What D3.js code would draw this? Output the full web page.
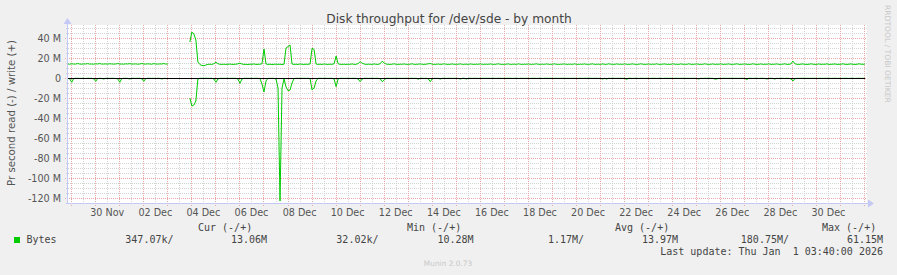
<!DOCTYPE html>
<html><head><meta charset="utf-8">
<script src="https://cdn.jsdelivr.net/npm/d3@7"></script>
<style>
body{margin:0;background:#f0f0f0;}
svg text{font-family:"DejaVu Sans",sans-serif;}
.mono{font-family:"DejaVu Sans Mono",monospace !important;white-space:pre;}
</style>
</head><body>
<svg id="chart" width="897" height="275"></svg>
<script>
// ---------- data ----------
const chartTitle = "Disk throughput for /dev/sde - by month";
const yAxisTitle = "Pr second read (-) / write (+)";
const sideText = "RRDTOOL / TOBI OETIKER";
const footerText = "Munin 2.0.73";
const seriesName = "Bytes";
const seriesStart = new Date(2025, 10, 28, 20, 30); // first sample
const stepHours = 2;
// write (+) in MB/s, 2-hour samples
const writeValues = [
14.0,13.8,14.2,14.0,13.9,14.5,14.0,13.8,14.1,14.0,14.4,13.9,14.0,13.8,14.2,14.0,14.5,13.9,14.0,14.1,
13.8,14.3,14.0,13.9,14.0,14.5,13.9,14.0,13.8,14.2,14.0,14.4,13.9,14.0,14.1,13.8,14.0,14.5,14.0,13.9,
14.2,14.0,13.8,14.4,14.0,13.9,14.1,14.0,14.5,13.9,14.0,null,null,null,null,null,null,null,null,null,
null,36.0,46.0,44.0,38.0,16.0,13.5,12.5,12.3,13.0,13.6,13.8,13.6,14.3,15.8,14.3,13.7,13.6,13.8,13.6,
13.7,14.0,13.6,13.7,13.8,14.2,14.8,14.0,13.6,13.7,13.5,13.8,13.7,14.1,13.6,13.7,13.8,14.2,29.0,14.0,
13.6,13.8,13.5,13.7,13.9,13.6,13.8,13.5,13.8,30.0,31.5,33.0,14.0,13.6,13.8,13.5,14.1,13.7,13.6,13.8,
13.7,14.0,29.7,28.5,14.0,13.6,13.8,13.5,14.1,13.7,13.6,13.8,13.7,14.2,22.0,14.2,13.7,13.6,13.8,13.5,
13.8,13.7,14.1,13.6,13.7,14.5,16.3,14.8,14.0,13.6,13.8,13.7,13.6,14.1,13.7,13.6,14.3,16.8,15.0,13.9,
13.7,13.6,13.8,14.2,13.7,13.6,13.8,13.7,14.1,13.6,13.7,13.8,14.2,13.6,13.7,13.8,14.1,13.7,13.6,13.8,
14.2,14.5,13.8,13.6,13.7,14.0,13.6,13.8,14.2,13.7,13.6,13.7,14.1,13.6,13.8,13.7,14.2,13.6,13.7,13.8,
13.6,14.1,13.7,13.6,13.8,13.7,14.2,13.6,13.7,13.8,13.6,14.1,13.7,13.6,13.8,14.2,13.7,13.6,13.7,13.8,
14.1,13.6,13.7,13.8,13.6,14.2,13.7,13.6,13.8,13.7,14.1,13.6,13.7,13.8,14.2,13.6,13.7,13.8,13.6,14.1,
13.7,13.6,13.8,14.2,13.7,13.6,13.7,13.8,14.1,13.6,13.7,13.8,13.6,14.2,13.7,13.6,13.8,13.7,14.1,13.6,
13.7,13.8,14.2,13.6,13.7,13.8,13.6,14.1,13.7,13.6,14.2,13.8,13.7,13.6,14.1,13.7,13.8,13.6,14.2,13.7,
13.6,13.8,14.1,13.7,13.6,13.7,14.2,13.8,13.6,13.7,14.1,13.6,13.8,13.7,14.2,13.6,13.7,13.8,14.1,13.6,
13.7,13.6,14.2,13.8,13.7,13.6,14.1,13.7,13.8,13.6,14.2,13.7,13.6,13.8,14.1,13.7,13.6,13.7,14.2,13.8,
13.6,13.7,14.1,13.6,13.8,13.7,14.2,13.6,13.7,13.8,14.1,13.6,13.7,13.8,14.2,13.7,13.6,13.8,14.1,13.7,
13.6,13.7,14.2,13.8,13.6,13.7,14.1,13.6,13.8,13.7,14.2,13.6,13.7,13.8,14.1,13.6,13.7,13.8,14.2,13.6,
13.7,14.0,17.0,14.2,13.7,13.6,13.8,14.1,13.7,13.6,13.7,14.2,13.8,13.6,13.7,14.1,13.6,13.8,13.7,14.2,
13.6,13.7,13.8,14.1,13.6,13.7,13.8,14.2,13.7,13.6,13.8,14.1,13.7,13.6,13.7,14.2,13.8,13.7,14.0
];
// read (-) in MB/s, 2-hour samples (drawn below zero)
const readValues = [
0.3,0.8,4.3,0.6,0.3,0.3,0.4,0.3,0.3,0.5,0.3,0.3,0.4,0.8,3.3,0.6,0.3,0.4,1.0,0.3,
0.3,0.4,0.3,0.3,0.5,0.8,4.3,0.6,0.3,0.3,0.4,1.0,0.3,0.3,0.4,0.3,0.3,0.8,3.3,0.6,
0.3,0.3,0.4,0.3,0.5,0.3,0.3,1.0,0.3,0.4,0.8,null,null,null,null,null,null,null,null,null,
null,20.0,28.0,27.0,23.0,1.0,0.3,0.3,0.4,0.3,0.3,0.4,0.3,1.0,4.3,1.0,0.3,0.3,0.4,0.3,
0.3,0.4,0.3,0.3,0.4,1.0,5.3,1.0,0.3,0.3,0.4,0.3,0.3,0.4,0.3,0.3,0.5,6.0,14.0,3.0,
0.3,0.4,0.3,0.3,1.0,10.0,123.0,10.0,1.0,9.0,12.7,12.0,5.0,0.5,0.3,0.3,0.4,0.3,0.3,0.4,
0.3,0.5,12.0,10.0,3.0,0.3,0.3,0.4,0.3,0.3,0.4,0.3,0.3,1.0,8.7,1.0,0.3,0.3,0.4,0.3,
0.3,0.4,0.3,0.3,0.4,1.0,3.7,1.0,0.3,0.3,0.4,0.3,0.3,0.4,0.3,0.3,0.8,3.7,2.0,0.3,
0.3,0.4,0.3,0.3,0.4,0.3,0.3,0.4,0.3,0.3,0.4,0.3,0.3,0.4,0.3,1.2,0.3,0.3,0.4,0.3,
0.8,3.7,0.8,0.3,0.4,0.3,1.0,0.3,0.3,0.4,0.3,0.3,0.4,0.3,0.3,0.4,1.0,0.3,0.3,1.0,
0.3,0.3,0.4,0.3,0.3,0.4,0.3,0.3,0.4,0.3,0.3,0.4,0.3,0.3,0.4,0.3,0.3,0.4,0.3,0.3,
0.3,0.3,0.4,0.3,0.3,0.4,0.3,0.3,0.4,0.3,0.3,0.4,0.3,0.3,0.4,0.3,0.3,0.4,0.3,0.3,
0.3,0.3,0.4,0.3,0.3,0.4,0.3,0.3,0.4,0.3,0.3,0.4,0.3,0.3,0.4,0.3,0.3,0.4,0.3,0.3,
0.3,0.3,0.4,0.3,0.3,0.4,0.3,1.0,0.3,1.0,0.3,0.4,0.3,0.3,0.4,0.3,0.3,0.4,0.3,1.3,
0.3,0.3,0.4,0.3,0.3,0.4,0.3,0.3,0.4,0.3,0.3,0.4,0.3,0.3,0.4,0.3,0.3,0.4,0.3,0.3,
0.3,0.3,0.4,0.3,0.3,0.4,0.3,0.3,0.4,0.3,0.3,0.4,0.3,0.3,0.4,1.0,0.3,0.4,0.3,0.3,
0.3,0.3,0.4,1.0,1.0,0.3,0.4,0.3,0.3,0.4,0.3,0.3,0.4,0.3,0.3,0.4,0.3,0.3,0.4,1.5,
0.3,0.3,0.4,0.3,0.3,0.4,0.3,0.3,0.4,1.0,0.3,0.3,0.4,1.0,0.3,0.4,0.3,0.3,0.4,0.3,
0.3,0.8,3.0,0.8,0.3,0.4,0.3,0.3,0.4,0.3,0.3,0.4,0.3,0.3,0.4,0.3,0.3,0.4,0.3,0.3,
0.3,0.4,0.3,0.3,0.4,0.3,0.3,0.4,0.3,0.3,0.4,0.3,0.3,0.4,0.3,0.3,0.4,0.3,0.3
];
const yTickValues = [40,20,0,-20,-40,-60,-80,-100,-120];
const xLabelDates = ["2025-11-30","2025-12-02","2025-12-04","2025-12-06","2025-12-08","2025-12-10","2025-12-12","2025-12-14","2025-12-16","2025-12-18","2025-12-20","2025-12-22","2025-12-24","2025-12-26","2025-12-28","2025-12-30"];
const legendHeaders = ["Cur (-/+)","Min (-/+)","Avg (-/+)","Max (-/+)"];
const legendValues = ["347.07k/","13.06M","32.02k/","10.28M","1.17M/","13.97M","180.75M/","61.15M"];
const lastUpdate = "Last update: Thu Jan  1 03:40:00 2026";

// ---------- layout ----------
const W = 897, H = 275;
const PL = 67, PR = 867, PT = 25, PB = 203;
const lineColor = "#00cc00";
const axisColor = "#c4c8f4";

const svg = d3.select("#chart");
svg.append("rect").attr("width", W).attr("height", H).attr("fill", "#f0f0f0");

const x = d3.scaleTime()
  .domain([new Date(2025, 10, 28, 19, 50), new Date(2026, 0, 1, 2, 30)])
  .range([PL, PR]);
const y = d3.scaleLinear().domain([-125, 53]).range([PB, PT]);

svg.append("rect").attr("x", PL).attr("y", PT).attr("width", PR - PL).attr("height", PB - PT).attr("fill", "#ffffff");

const grid = svg.append("g").attr("shape-rendering", "crispEdges");
// horizontal minor / major
d3.range(-120, 51, 5).forEach(v => {
  const major = v % 20 === 0;
  const yy = Math.round(y(v)) + 0.5;
  grid.append("line").attr("x1", PL - (major ? 2 : 1)).attr("x2", PR).attr("y1", yy).attr("y2", yy)
    .attr("stroke", major ? "#e8a8a8" : "#d4d4d4").attr("stroke-dasharray", "1,1");
});
// vertical minor (12h) / major (daily)
const vt = d3.timeHour.every(12).range(x.domain()[0], x.domain()[1]);
vt.forEach(t => {
  const major = t.getHours() === 0;
  const xx = Math.round(x(t)) + 0.5;
  grid.append("line").attr("x1", xx).attr("x2", xx).attr("y1", PT).attr("y2", PB + (major ? 3 : 2))
    .attr("stroke", major ? "#e8a8a8" : "#d4d4d4").attr("stroke-dasharray", "1,1");
});

// series
const tOf = i => d3.timeHour.offset(seriesStart, i * stepHours);
const lineGen = d3.line().defined(d => d.v != null).x(d => x(d.t)).y(d => y(d.v));
const writeData = writeValues.map((v, i) => ({t: tOf(i), v: v}));
const readData = readValues.map((v, i) => ({t: tOf(i), v: v == null ? null : -v}));
svg.append("path").datum(readData).attr("d", lineGen).attr("fill", "none").attr("stroke", lineColor).attr("stroke-width", 1);
svg.append("path").datum(writeData).attr("d", lineGen).attr("fill", "none").attr("stroke", lineColor).attr("stroke-width", 1);

// zero line
svg.append("line").attr("x1", PL).attr("x2", PR - 2).attr("y1", Math.round(y(0)) + 0.5).attr("y2", Math.round(y(0)) + 0.5)
  .attr("stroke", "#000").attr("stroke-width", 1).attr("shape-rendering", "crispEdges");

// axes
const ax = svg.append("g");
ax.append("line").attr("x1", PL + 0.5).attr("x2", PL + 0.5).attr("y1", PB + 1).attr("y2", PT - 3).attr("stroke", axisColor).attr("shape-rendering", "crispEdges");
ax.append("line").attr("x1", PL - 1).attr("x2", PR + 1).attr("y1", PB + 0.5).attr("y2", PB + 0.5).attr("stroke", axisColor).attr("shape-rendering", "crispEdges");
ax.append("path").attr("d", `M${PL - 3.5},${PT - 1} L${PL + 0.5},${PT - 7} L${PL + 4.5},${PT - 1} Z`).attr("fill", axisColor);
ax.append("path").attr("d", `M${PR + 1},${PB - 3.5} L${PR + 7},${PB + 0.5} L${PR + 1},${PB + 4.5} Z`).attr("fill", axisColor);

// y tick labels
svg.append("g").selectAll("text").data(yTickValues).join("text")
  .attr("x", 61).attr("y", d => y(d) + 3.6).attr("text-anchor", "end")
  .attr("font-size", 9.6).attr("fill", "#555")
  .text(d => d === 0 ? "0" : d + " M");

// x tick labels (centred on noon of each labelled day)
const fmt = d3.timeFormat("%d %b");
const parse = d3.timeParse("%Y-%m-%d");
svg.append("g").selectAll("text").data(xLabelDates.map(parse)).join("text")
  .attr("x", d => x(d3.timeHour.offset(d, 12))).attr("y", 216).attr("text-anchor", "middle")
  .attr("font-size", 9.6).attr("fill", "#555")
  .text(d => fmt(d));

// title
svg.append("text").attr("x", 449).attr("y", 23).attr("text-anchor", "middle")
  .attr("font-size", 12.2).attr("fill", "#444").text(chartTitle);
// y axis title
svg.append("text").attr("transform", "translate(15,113) rotate(-90)").attr("text-anchor", "middle")
  .attr("font-size", 10.2).attr("fill", "#555").text(yAxisTitle);
// side text
svg.append("text").attr("transform", "translate(885,5) rotate(90)").attr("text-anchor", "start")
  .attr("font-size", 7.6).attr("fill", "#c8c8c8").text(sideText);

// legend
const headerX = [198, 407, 615, 822];
svg.append("g").selectAll("text").data(legendHeaders).join("text")
  .attr("class", "mono").attr("x", (d, i) => headerX[i]).attr("y", 231)
  .attr("font-size", 10).attr("fill", "#444").text(d => d);
svg.append("rect").attr("x", 14).attr("y", 237).attr("width", 6).attr("height", 6).attr("fill", lineColor);
svg.append("text").attr("class", "mono").attr("x", 26.5).attr("y", 243).attr("font-size", 10).attr("fill", "#444").text(seriesName);
const valueEnd = [173.5, 267, 378.5, 473.5, 584, 678, 789, 883];
svg.append("g").selectAll("text").data(legendValues).join("text")
  .attr("class", "mono").attr("x", (d, i) => valueEnd[i]).attr("y", 243).attr("text-anchor", "end")
  .attr("font-size", 10).attr("fill", "#444").text(d => d);
svg.append("text").attr("class", "mono").attr("x", 883).attr("y", 255).attr("text-anchor", "end")
  .attr("font-size", 10).attr("fill", "#444").text(lastUpdate);
svg.append("text").attr("x", 448).attr("y", 266).attr("text-anchor", "middle")
  .attr("font-size", 7.4).attr("fill", "#c8c8c8").text(footerText);
</script>
</body></html>
